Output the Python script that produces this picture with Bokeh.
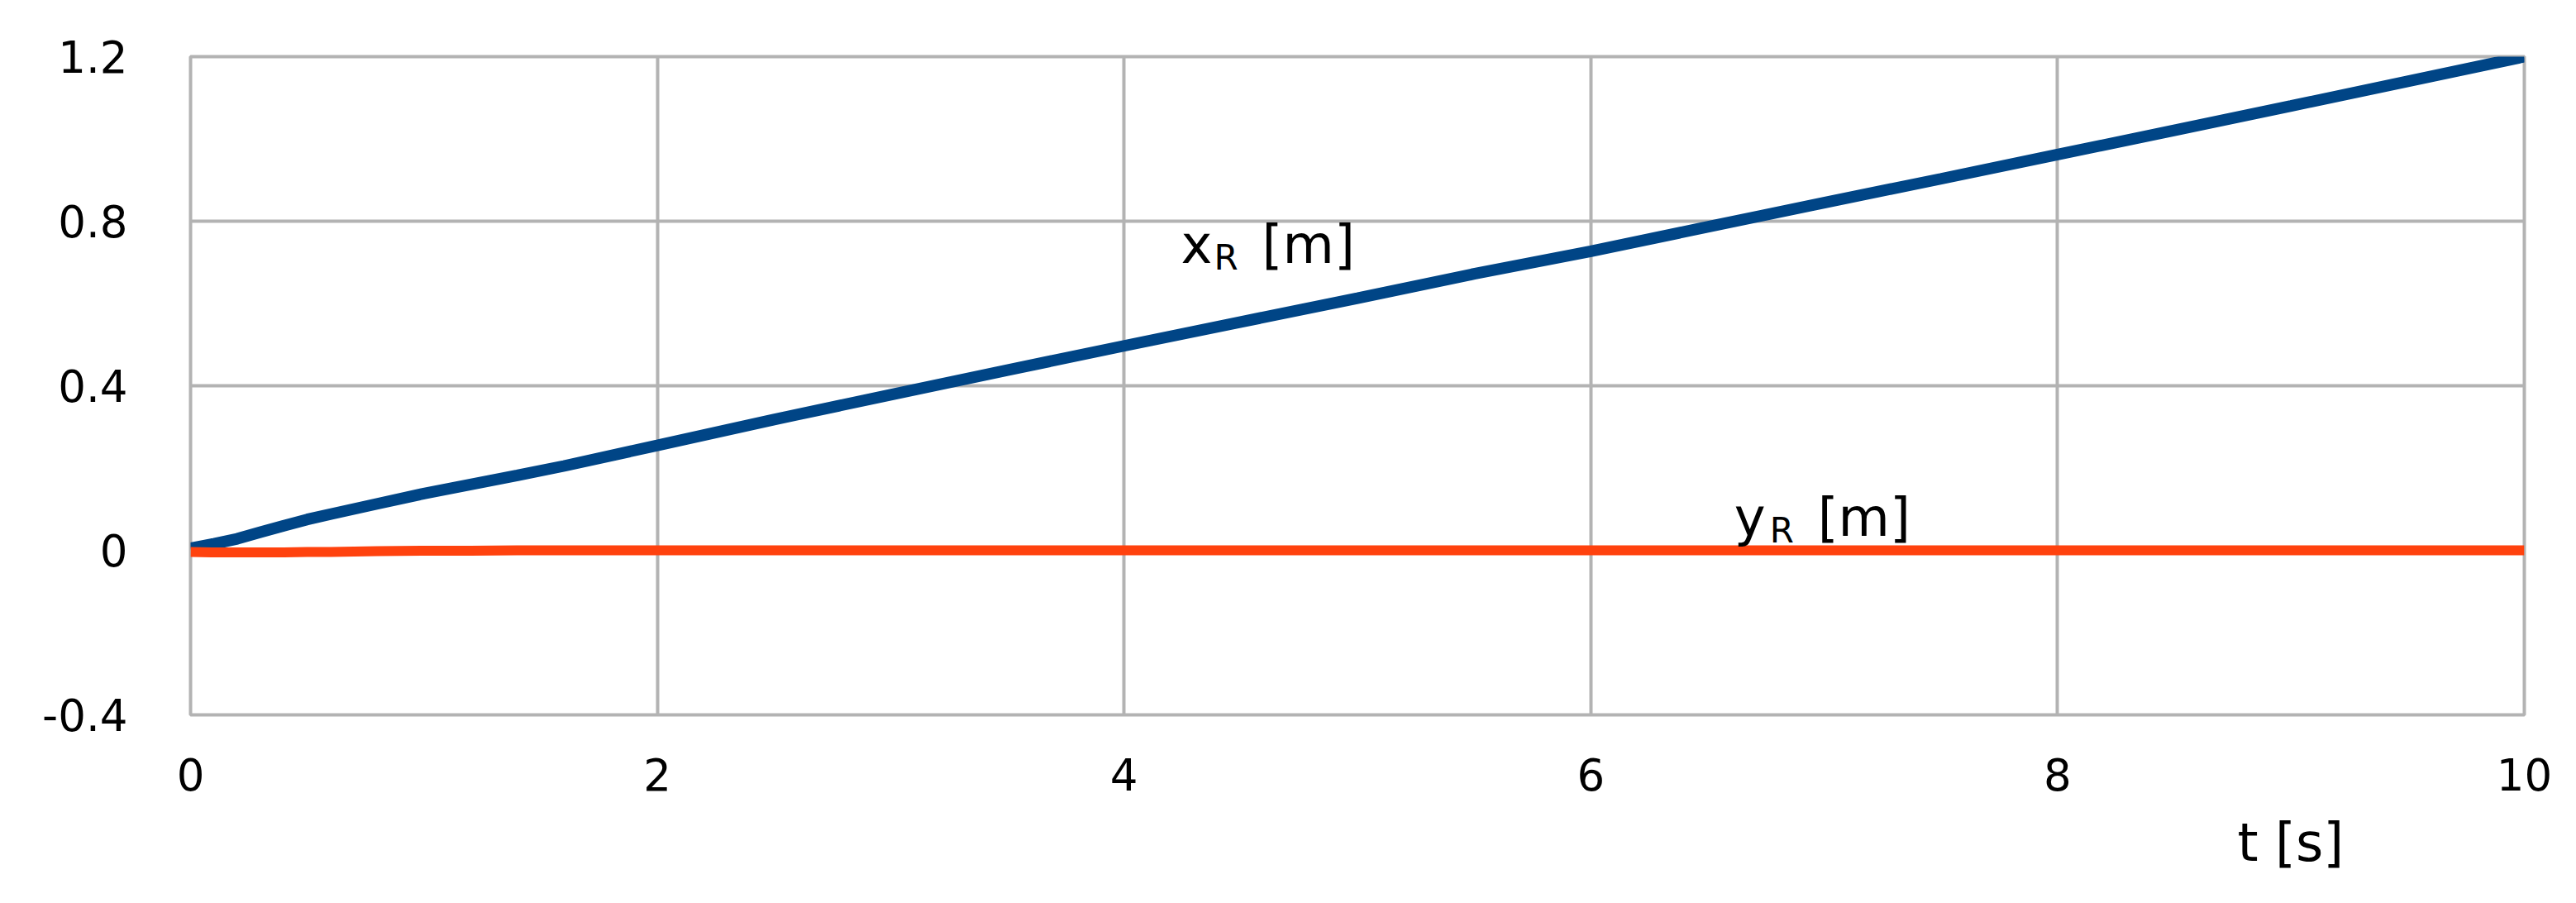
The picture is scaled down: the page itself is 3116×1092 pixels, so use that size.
from bokeh.plotting import figure
from bokeh.models import Range1d, FixedTicker, Label, Title
from bokeh.embed import file_html
from bokeh.resources import INLINE

# time samples [s]
t = [0, 0.1, 0.2, 0.3, 0.4, 0.5, 0.6, 0.8, 1.0, 1.2, 1.4, 1.6, 2.0, 2.5, 3.0,
     3.5, 4.0, 4.5, 5.0, 5.5, 6.0, 6.5, 7.0, 7.5, 8.0, 8.5, 9.0, 9.5, 10.0]
# x_R [m]
x_r = [0.005, 0.016, 0.028, 0.044, 0.06, 0.075, 0.088, 0.113, 0.138, 0.16, 0.182,
       0.205, 0.255, 0.318, 0.378, 0.438, 0.497, 0.555, 0.613, 0.672, 0.727, 0.786,
       0.845, 0.903, 0.962, 1.021, 1.08, 1.14, 1.2]
# y_R [m]
y_r = [-0.004, -0.005, -0.005, -0.005, -0.005, -0.004, -0.004, -0.002, -0.001,
       -0.001, 0.0, 0.0, 0.0, 0.0, 0.0, 0.0, 0.0, 0.0, 0.0, 0.0, 0.0, 0.0, 0.0,
       0.0, 0.0, 0.0, 0.0, 0.0, 0.0]

x_ticks = [0, 2, 4, 6, 8, 10]
y_ticks = [-0.4, 0, 0.4, 0.8, 1.2]
y_tick_labels = ["-0.4", "0", "0.4", "0.8", "1.2"]

FONT = "DejaVu Sans"
GRID = "#b3b3b3"
BLUE = "#004586"
RED = "#ff420e"

p = figure(width=3100, height=1076, output_backend="svg", toolbar_location=None,
           x_range=Range1d(0, 10), y_range=Range1d(-0.4, 1.2),
           min_border_left=230, min_border_right=47, min_border_top=68,
           min_border_bottom=210)
p.background_fill_color = "white"
p.border_fill_color = "white"
p.outline_line_color = GRID
p.outline_line_width = 4

p.xaxis.ticker = FixedTicker(ticks=x_ticks)
p.yaxis.ticker = FixedTicker(ticks=y_ticks)
p.yaxis.major_label_overrides = {v: s for v, s in zip(y_ticks, y_tick_labels)}
for ax in (p.xaxis, p.yaxis):
    ax.axis_line_color = None
    ax.major_tick_line_color = None
    ax.minor_tick_line_color = None
    ax.major_label_text_font = FONT
    ax.major_label_text_font_size = "53px"
    ax.major_label_text_color = "black"
p.xaxis.major_label_standoff = 46
p.yaxis.major_label_standoff = 70

p.xgrid.grid_line_color = GRID
p.ygrid.grid_line_color = GRID
p.xgrid.grid_line_width = 4
p.ygrid.grid_line_width = 4

p.line(t, x_r, line_color=BLUE, line_width=14)
p.line(t, y_r, line_color=RED, line_width=12)

def add_sub_label(x, y, main, sub, rest, sub_dx, rest_dx):
    p.add_layout(Label(x=x, y=y, text=main, text_font=FONT, text_font_size="64px",
                       text_color="black", text_baseline="alphabetic",
                       text_align="left"))
    p.add_layout(Label(x=x, y=y, x_offset=sub_dx, y_offset=-16, text=sub,
                       text_font=FONT, text_font_size="42px", text_color="black",
                       text_baseline="alphabetic", text_align="left"))
    p.add_layout(Label(x=x, y=y, x_offset=rest_dx, text=rest, text_font=FONT,
                       text_font_size="64px", text_color="black",
                       text_baseline="alphabetic", text_align="left"))

add_sub_label(4.244, 0.743, "x", "R", "[m]", 40, 98)
add_sub_label(6.614, 0.08, "y", "R", "[m]", 43, 101)

x_title = Title(text="t [s]", align="left", offset=2476, text_font=FONT,
                text_font_size="64px", text_font_style="normal",
                text_color="black", standoff=42)
p.add_layout(x_title, "below")

open("out.html", "w").write(file_html(p, INLINE))
